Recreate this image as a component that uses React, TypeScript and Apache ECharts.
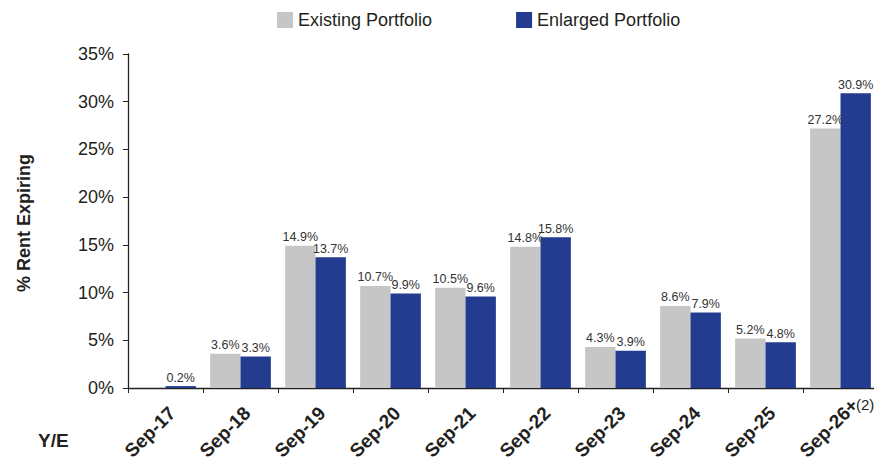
import React, { useEffect, useRef } from "react";
import * as echarts from "echarts";

const categories = ["Sep-17", "Sep-18", "Sep-19", "Sep-20", "Sep-21", "Sep-22", "Sep-23", "Sep-24", "Sep-25", "Sep-26+"];
const existing = [0.1, 3.6, 14.9, 10.7, 10.5, 14.8, 4.3, 8.6, 5.2, 27.2];
const enlarged = [0.2, 3.3, 13.7, 9.9, 9.6, 15.8, 3.9, 7.9, 4.8, 30.9];
const hiddenExistingLabels = ["Sep-17"];
const yTicks = [0, 5, 10, 15, 20, 25, 30, 35];

const FONT = "'Liberation Sans', Arial, Helvetica, sans-serif";
const GRAY = "#c6c6c6";
const BLUE = "#233c8f";
const TEXT = "#231f20";

export default function App() {
  const ref = useRef<HTMLDivElement>(null);
  useEffect(() => {
    if (!ref.current) return;
    const chart = echarts.init(ref.current, null, { renderer: "svg" });
    const labelStyle = {
      show: true,
      position: "top",
      distance: 2,
      fontFamily: FONT,
      fontSize: 12.5,
      color: "#333",
      formatter: (p: any) => `${p.value.toFixed(1)}%`,
    };
    chart.setOption({
      animation: false,
      textStyle: { fontFamily: FONT },
      legend: {
        left: 277,
        top: 11,
        padding: 0,
        icon: "rect",
        itemWidth: 16,
        itemHeight: 16,
        itemGap: 84,
        textStyle: { fontFamily: FONT, fontSize: 18, color: TEXT },
        data: ["Existing Portfolio", "Enlarged Portfolio"],
      },
      grid: {
        left: 128,
        top: 54,
        width: 750,
        height: 334,
        containLabel: false,
        outerBoundsMode: "none",
      },
      xAxis: [
        {
          type: "category",
          position: "bottom",
          data: categories,
          axisLine: { lineStyle: { color: "#222", width: 1.3 } },
          axisTick: { show: true, alignWithLabel: false, length: 5, lineStyle: { color: "#222" } },
          axisLabel: { show: false },
        },
        {
          type: "category",
          position: "bottom",
          data: [...categories, ""],
          boundaryGap: false,
          axisLine: { show: false },
          axisTick: { show: false },
          axisLabel: {
            show: true,
            interval: 0,
            rotate: 45,
            align: "left",
            verticalAlign: "middle",
            margin: 66,
            fontFamily: FONT,
            fontSize: 19,
            fontWeight: "bold",
            color: TEXT,
          },
        },
      ],
      yAxis: {
        type: "value",
        min: 0,
        max: 35,
        interval: 5,
        splitLine: { show: false },
        axisLine: { show: true, lineStyle: { color: "#222", width: 1.3 } },
        axisTick: { show: true, length: 5, lineStyle: { color: "#222" } },
        axisLabel: {
          margin: 14,
          fontFamily: FONT,
          fontSize: 18,
          color: TEXT,
          formatter: (v: number) => (yTicks.includes(v) ? `${v}%` : ""),
        },
      },
      series: [
        {
          name: "Existing Portfolio",
          type: "bar",
          xAxisIndex: 0,
          barGap: "0%",
          barCategoryGap: "19%",
          itemStyle: { color: GRAY },
          label: labelStyle,
          data: existing.map((v, i) =>
            hiddenExistingLabels.includes(categories[i]) ? { value: v, label: { show: false } } : v
          ),
        },
        {
          name: "Enlarged Portfolio",
          type: "bar",
          xAxisIndex: 0,
          barGap: "0%",
          barCategoryGap: "19%",
          itemStyle: { color: BLUE },
          label: labelStyle,
          data: enlarged,
        },
      ],
      graphic: [
        {
          type: "text",
          x: 24,
          y: 223,
          rotation: Math.PI / 2,
          style: {
            text: "% Rent Expiring",
            fontFamily: FONT,
            fontSize: 18,
            fontWeight: "bold",
            fill: TEXT,
            align: "center",
            verticalAlign: "middle",
          },
        },
        {
          type: "text",
          x: 38,
          y: 440,
          style: {
            text: "Y/E",
            fontFamily: FONT,
            fontSize: 19,
            fontWeight: "bold",
            fill: TEXT,
            align: "left",
            verticalAlign: "middle",
          },
        },
        {
          type: "text",
          x: 856,
          y: 404,
          style: {
            text: "(2)",
            fontFamily: FONT,
            fontSize: 15,
            fill: TEXT,
            align: "left",
            verticalAlign: "middle",
          },
        },
      ],
    });
    return () => chart.dispose();
  }, []);
  return <div ref={ref} style={{ width: 874, height: 464, position: "absolute", left: 0, top: 0 }} />;
}
